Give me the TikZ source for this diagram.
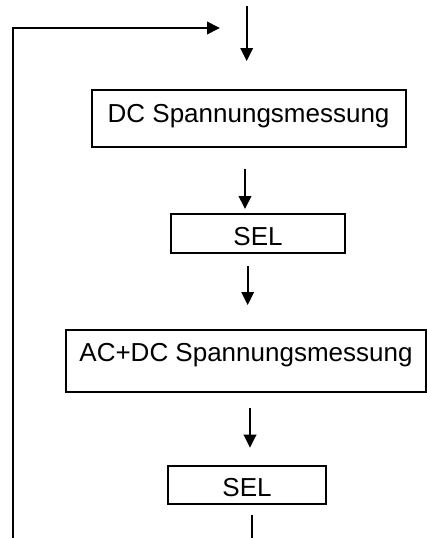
\documentclass[tikz,border=0pt]{standalone}
\usepackage{fontspec}
\setmainfont{Liberation Sans}
\usetikzlibrary{arrows.meta}
\begin{document}
\begin{tikzpicture}[x=1pt,y=-1pt,
  box/.style={draw,line width=2pt,inner sep=0pt,anchor=base,font=\fontsize{26}{30}\selectfont},
  flow/.style={line width=2pt,-{Triangle[length=13pt,width=12.5pt]}}]
\useasboundingbox (0,0) rectangle (427,538);
\node[box,minimum width=314pt,text height=32pt,text depth=24.5pt] (dc) at (248.6,122) {DC Spannungsmessung};
\node[box,minimum width=174.6pt,text height=31pt,text depth=7.7pt] (sel1) at (258,245) {SEL};
\node[box,minimum width=360pt,text height=31.5pt,text depth=30.2pt] (acdc) at (246,361.5) {AC+DC Spannungsmessung};
\node[box,minimum width=157.4pt,text height=30.3pt,text depth=8pt] (sel2) at (247,496) {SEL};
\coordinate (back) at (12.7,538);
\draw[flow] (dc.north) ++(-1.9,-83) -- ++(0,55);
\draw[flow] (dc.south) ++(-3.6,21.2) -- ++(0,40.3);
\draw[flow] (sel1.south) ++(-10.3,12.3) -- ++(0,39);
\draw[flow] (acdc.south) ++(4,15.3) -- ++(0,39.7);
\draw[line width=2pt] (sel2.south) ++(5.3,10) -- ++(0,24);
\draw[flow] (back) |- ([xshift=-28.6pt,yshift=61pt]dc.north);
\end{tikzpicture}
\end{document}
